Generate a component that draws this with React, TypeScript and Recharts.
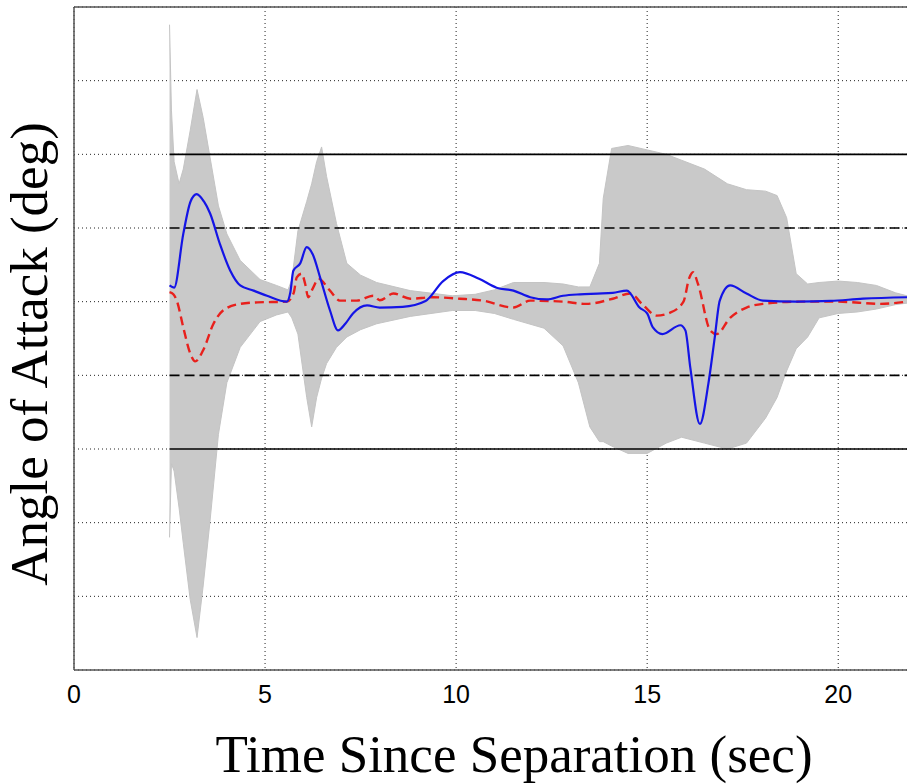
import React from "react";
import {
  ComposedChart,
  Area,
  Line,
  XAxis,
  YAxis,
  CartesianGrid,
  ReferenceLine,
  Label,
} from "recharts";

// ---- Monte Carlo envelope (light gray band): time, lower, upper (deg)
const envTime = [
  2.5, 2.55, 2.62, 2.75, 2.86, 3.04, 3.22, 3.38, 3.56, 3.78, 4.0, 4.35, 4.87,
  5.3, 5.6, 5.7, 5.86, 6.09, 6.22, 6.35, 6.48, 6.61, 6.87, 7.14, 7.5, 7.92,
  8.8, 9.9, 10.5, 11.0, 11.5, 12.3, 12.8, 13.2, 13.5, 13.75, 13.85, 14.07,
  14.5, 15.0, 15.5, 15.9, 16.5, 17.1, 17.6, 18.1, 18.4, 18.65, 18.9, 19.2,
  19.5, 20.0, 20.5, 21.0, 21.5, 21.8,
];
const envLow = [
  -16, -11, -11.5, -14, -16.4, -20.2, -22.8, -19.3, -14.9, -9, -5.5, -3.1,
  -1.35, -0.9, -0.7, -1.1, -2.2, -6.5, -8.5, -6.5, -5.2, -4.2, -3.1, -2.4,
  -1.9, -1.5, -1.0, -0.6, -0.6, -0.8, -1.2, -1.8, -3, -5.5, -8.5, -9.5, -9.5,
  -9.8, -10.3, -10.3, -9.6, -9.2, -9.6, -10, -9.6, -7.9, -6.5, -4.7, -3.2,
  -2.4, -1.1, -0.8, -0.7, -0.5, -0.2, -0.1,
];
const envHigh = [
  18.8, 13, 9.5, 8, 9.0, 11.6, 14.4, 12.5, 9.8, 6.5, 4.6, 2.8, 1.5, 1.1, 0.8,
  1.5, 4.8, 6.8, 8.0, 9.5, 10.5, 8.5, 5.3, 2.6, 1.8, 1.3, 0.75, 0.4, 0.5, 0.8,
  1.3, 1.3, 1.2, 1.0, 1.0, 2.6, 7.0, 10.4, 10.6, 10.3, 10.0, 9.6, 9.0, 8.0,
  7.6, 7.5, 7.2, 5.7, 1.9, 1.2, 1.3, 1.4, 1.3, 1.1, 0.6, 0.4,
];

// ---- Blue nominal trajectory
const blueTime = [
  2.5, 2.62, 2.86, 3.05, 3.21, 3.4, 3.56, 3.82, 4.09, 4.35, 4.7, 5.05, 5.57,
  5.66, 5.74, 5.92, 6.09, 6.25, 6.44, 6.7, 6.91, 7.1, 7.3, 7.67, 8.0, 8.6, 9.2,
  9.66, 10.1, 10.6, 11.06, 11.5, 11.94, 12.37, 12.8, 13.24, 13.7, 14.1, 14.47,
  14.8, 15.0, 15.15, 15.4, 15.87, 16.0, 16.13, 16.38, 16.6, 16.77, 16.9, 17.17,
  17.6, 18.03, 18.9, 19.8, 20.65, 21.8,
];
const blueAoa = [
  1.1, 0.95, 4.6, 6.8, 7.3, 6.8, 6.0, 3.9, 2.1, 1.1, 0.75, 0.4, 0.0, 0.6, 2.1,
  2.6, 3.7, 3.2, 1.65, -0.6, -1.95, -1.5, -0.8, -0.25, -0.4, -0.35, 0.05, 1.4,
  2.0, 1.55, 0.95, 0.75, 0.3, 0.15, 0.4, 0.5, 0.55, 0.6, 0.75, -0.4, -0.8,
  -1.75, -2.2, -1.6, -1.95, -4.5, -8.3, -5.6, -2.4, 0.07, 1.1, 0.55, 0.07, 0.0,
  0.05, 0.2, 0.3,
];

// ---- Red dashed trajectory
const redTime = [
  2.5, 2.6, 2.69, 2.86, 3.04, 3.17, 3.38, 3.65, 3.9, 4.34, 4.8, 5.57, 5.75,
  5.83, 5.96, 6.05, 6.13, 6.25, 6.4, 6.7, 6.96, 7.4, 7.83, 8.0, 8.36, 8.8, 9.4,
  10.1, 10.7, 11.5, 11.94, 12.8, 13.4, 14.1, 14.55, 14.9, 15.25, 15.6, 15.95,
  16.1, 16.2, 16.33, 16.65, 16.82, 17.17, 17.6, 18.03, 19.0, 20.0, 21.1, 21.8,
];
const redAoa = [
  0.65, 0.5, 0.07, -1.75, -3.5, -4.05, -3.3, -1.5, -0.6, -0.15, -0.05, 0.0,
  0.6, 1.65, 1.9, 1.2, 0.3, 0.9, 1.55, 0.75, 0.07, 0.07, 0.4, 0.1, 0.55, 0.2,
  0.3, 0.2, 0.07, -0.4, 0.07, 0.0, -0.15, 0.2, 0.55, -0.25, -0.95, -0.75, 0.0,
  1.6, 2.0, 1.2, -1.95, -2.2, -1.1, -0.4, -0.15, 0.0, 0.0, -0.15, 0.0,
];

// ---- Limit lines
const limitTime = [2.5, 21.8];
const outerLimit = 10;
const innerLimit = 5;

const xTicks = [0, 5, 10, 15, 20];
const yTicks = [-25, -20, -15, -10, -5, 0, 5, 10, 15, 20];

const envData = envTime.map((t, i) => ({ t, range: [envLow[i], envHigh[i]] }));
const blueData = blueTime.map((t, i) => ({ t, v: blueAoa[i] }));
const redData = redTime.map((t, i) => ({ t, v: redAoa[i] }));
const limData = limitTime.map((t) => ({
  t,
  up2: outerLimit,
  lo2: -outerLimit,
  up1: innerLimit,
  lo1: -innerLimit,
}));

const SANS = "'Liberation Sans', Arial, sans-serif";
const SERIF = "'Liberation Serif', 'Times New Roman', serif";

const EmptyTick = () => <g />;

export default function App() {
  return (
    <div style={{ position: "absolute", left: 0, top: 0, background: "#fff" }}>
      <ComposedChart
        width={907}
        height={784}
        margin={{ top: 7, right: 0, left: 73, bottom: 0 }}
      >
        <CartesianGrid
          stroke="#222"
          strokeDasharray="1 3"
          strokeWidth={1}
          horizontal={true}
          vertical={true}
          verticalValues={xTicks}
          horizontalValues={yTicks}
        />
        <XAxis
          dataKey="t"
          type="number"
          domain={[0, 21.8]}
          ticks={xTicks}
          allowDataOverflow
          height={114}
          tickSize={0}
          tickMargin={15}
          axisLine={{ stroke: "#555", strokeWidth: 1.5 }}
          tick={{ fontSize: 25, fill: "#000", fontFamily: SANS }}
        >
          <Label
            content={() => (
              <text
                x={514}
                y={772}
                textAnchor="middle"
                fontSize={53}
                fontFamily={SERIF}
                fill="#000"
              >
                Time Since Separation (sec)
              </text>
            )}
          />
          <Label
            content={() => (
              <text
                x={47}
                y={354}
                transform="rotate(-90, 47, 354)"
                textAnchor="middle"
                fontSize={53}
                fontFamily={SERIF}
                fill="#000"
              >
                Angle of Attack (deg)
              </text>
            )}
          />
        </XAxis>
        <YAxis
          type="number"
          domain={[-25, 20]}
          ticks={yTicks}
          allowDataOverflow
          width={1}
          tickLine={false}
          tick={EmptyTick}
          axisLine={{ stroke: "#555", strokeWidth: 1.5 }}
        />
        <ReferenceLine y={20} stroke="#555" strokeWidth={1.5} />
        <Area
          data={envData}
          dataKey="range"
          type="linear"
          stroke="#c4c4c4"
          strokeWidth={1}
          fill="#c9c9c9"
          fillOpacity={1}
          isAnimationActive={false}
          dot={false}
          activeDot={false}
        />
        <Line data={limData} dataKey="up2" stroke="#000" strokeWidth={1.6} dot={false} isAnimationActive={false} />
        <Line data={limData} dataKey="lo2" stroke="#000" strokeWidth={1.6} dot={false} isAnimationActive={false} />
        <Line data={limData} dataKey="up1" stroke="#000" strokeWidth={1.6} strokeDasharray="10 5" dot={false} isAnimationActive={false} />
        <Line data={limData} dataKey="lo1" stroke="#000" strokeWidth={1.6} strokeDasharray="10 5" dot={false} isAnimationActive={false} />
        <Line
          data={redData}
          dataKey="v"
          type="monotone"
          stroke="#e8201c"
          strokeWidth={2.4}
          strokeDasharray="9 5"
          dot={false}
          isAnimationActive={false}
        />
        <Line
          data={blueData}
          dataKey="v"
          type="monotone"
          stroke="#1414e6"
          strokeWidth={2.2}
          dot={false}
          isAnimationActive={false}
        />
      </ComposedChart>
    </div>
  );
}
